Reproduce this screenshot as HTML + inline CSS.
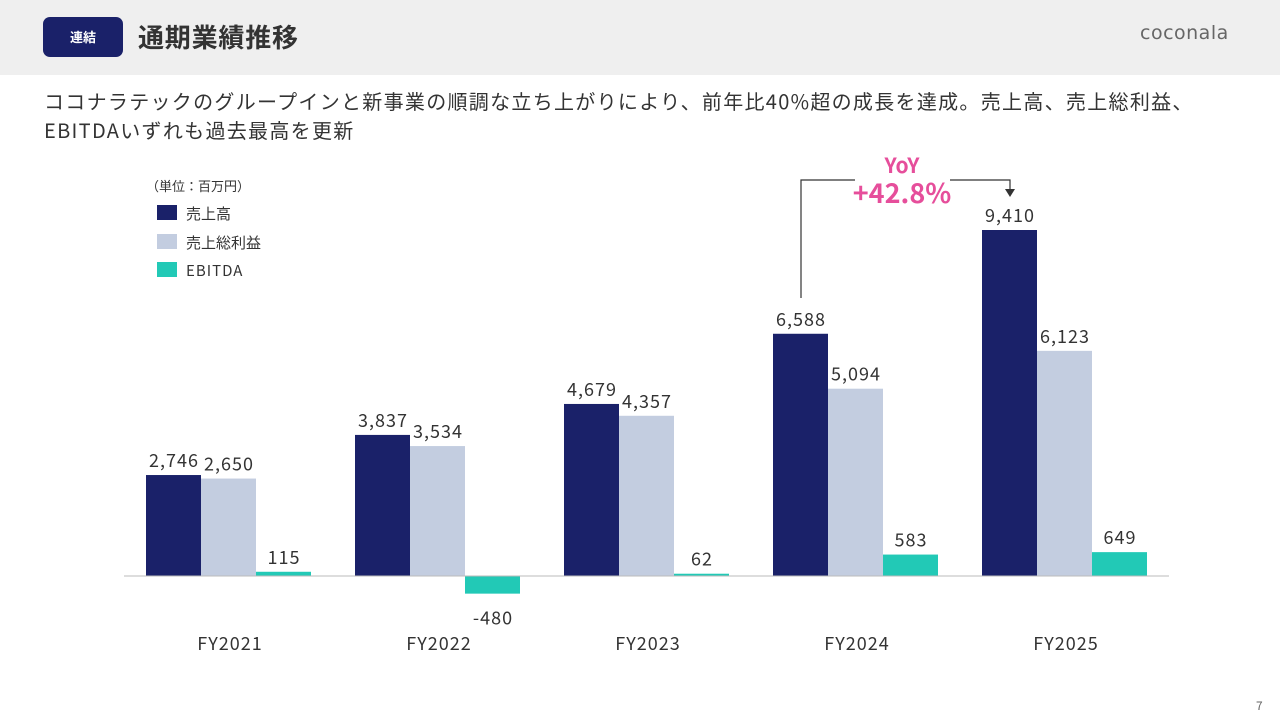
<!DOCTYPE html>
<html><head><meta charset="utf-8">
<style>
body{margin:0;width:1280px;height:720px;background:#fff;font-family:"Noto Sans CJK JP","Liberation Sans",sans-serif;position:relative;overflow:hidden;color:#333}
.hdr{position:absolute;left:0;top:0;width:1280px;height:75px;background:#efefef}
.badge{position:absolute;left:43px;top:17px;width:80px;height:40px;background:#1a2169;border-radius:7px;color:#fff;font-size:13px;font-weight:bold;text-align:center;line-height:40px}
.title{position:absolute;left:138px;top:17px;font-size:26px;letter-spacing:0.8px;font-weight:bold;color:#333;line-height:40px}
.logo{position:absolute;left:1140px;top:22px;font-size:19px;color:#666;letter-spacing:0.5px;font-family:"DejaVu Sans",sans-serif}
.sub{position:absolute;left:44px;top:86px;font-size:20px;letter-spacing:1.3px;line-height:29px;color:#333}
svg{position:absolute;left:0;top:0;font-family:"Noto Sans CJK JP","Liberation Sans",sans-serif}
</style></head><body>
<div class="hdr">
<div class="badge">連結</div>
<div class="title">通期業績推移</div>
<div class="logo">coconala</div>
</div>
<div class="sub">ココナラテックのグループインと新事業の順調な立ち上がりにより、前年比40%超の成長を達成。売上高、売上総利益、<br>EBITDAいずれも過去最高を更新</div>
<svg id="chart" width="1280" height="720">
<text x="146" y="191" font-size="13" fill="#333">（単位：百万円）</text>
<g>
<rect x="157" y="205" width="20" height="15" fill="#1a2169"/>
<text x="186" y="219" font-size="15" fill="#333">売上高</text>
<rect x="157" y="234" width="20" height="15" fill="#c3cde0"/>
<text x="186" y="248" font-size="15" fill="#333">売上総利益</text>
<rect x="157" y="262" width="20" height="15" fill="#22c9b6"/>
<text x="186" y="276" font-size="15" fill="#333" letter-spacing="1">EBITDA</text>
</g>
<g>
<polyline points="801,298 801,180 855,180" fill="none" stroke="#333" stroke-width="1.2"/>
<polyline points="950,180 1010,180 1010,190" fill="none" stroke="#333" stroke-width="1.2"/>
<polygon points="1005,189 1015,189 1010,197" fill="#333"/>
<text x="902" y="173" font-size="21" font-weight="bold" fill="#e64e9b" text-anchor="middle">YoY</text>
<text x="902" y="203" font-size="27" font-weight="bold" fill="#e64e9b" text-anchor="middle">+42.8%</text>
</g>
<g id="marks"></g>
</svg>
<div style="position:absolute;left:1256px;top:697px;font-size:12px;color:#666">7</div>
<script>
const categories=["FY2021","FY2022","FY2023","FY2024","FY2025"];
const sales=[2746,3837,4679,6588,9410];
const gross=[2650,3534,4357,5094,6123];
const ebitda=[115,-480,62,583,649];
const base=576, scale=346/9410;
const y=v=>base-v*scale;
const cx=i=>229+i*209;
const g=document.getElementById('marks');
const NS="http://www.w3.org/2000/svg";
function mk(t,a){const e=document.createElementNS(NS,t);for(const k in a)e.setAttribute(k,a[k]);g.appendChild(e);return e;}
const series=[[sales,"#1a2169","sales"],[gross,"#c3cde0","gross"],[ebitda,"#22c9b6","ebitda"]];
categories.forEach((c,i)=>{
 series.forEach(([arr,col,nm],s)=>{
  const v=arr[i],x=cx(i)-83+s*55;
  const r=mk('rect',{x:x,y:Math.min(y(v),base),width:55,height:Math.abs(y(v)-base),fill:col});
  
  
  const ly=v>=0?y(v)-8:y(v)+31;
  const t=mk('text',{x:x+28,y:ly,'font-size':18,'letter-spacing':1,fill:'#333','text-anchor':'middle'});
  t.textContent=v.toLocaleString('en-US');
  
  
 });
 const t=mk('text',{x:cx(i)+1,y:650,'font-size':18,'letter-spacing':1,fill:'#333','text-anchor':'middle'});
 t.textContent=c;
 
 
});
const ax=mk('line',{x1:124,x2:1169,y1:base,y2:base,stroke:'#bbb','stroke-width':1});


</script>
</body></html>
